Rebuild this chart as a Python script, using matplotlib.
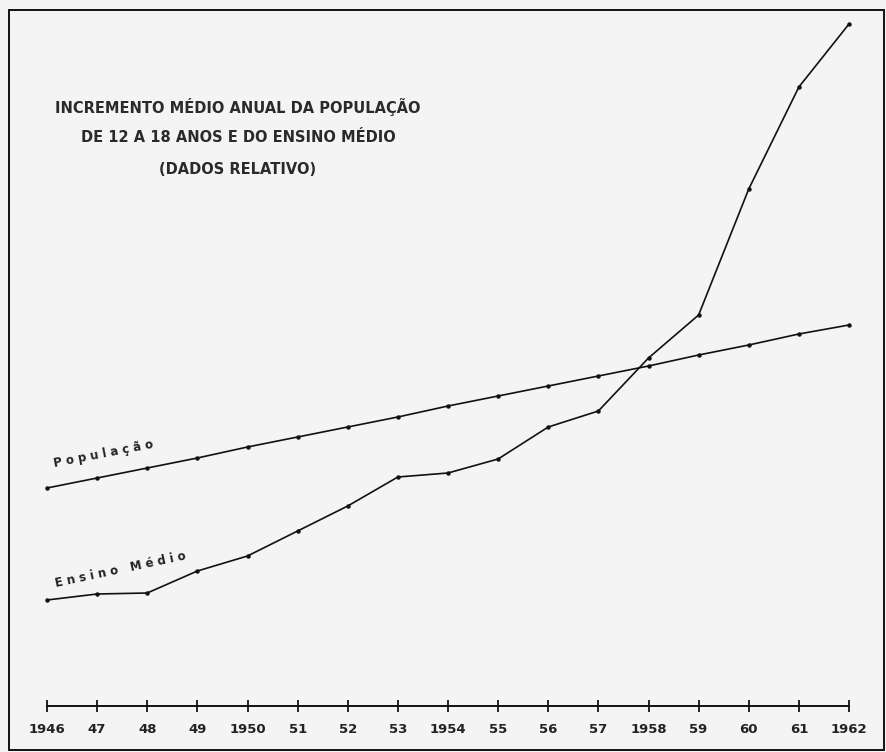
import matplotlib.pyplot as plt
from matplotlib.patches import Rectangle

# anos e rótulos do eixo
anos = list(range(1946, 1963))
rotulos = ["1946", "47", "48", "49", "1950", "51", "52", "53", "1954",
           "55", "56", "57", "1958", "59", "60", "61", "1962"]

# valores relativos (unidades arbitrárias)
populacao = [218, 228, 238, 248, 259, 269, 279, 289, 300,
             310, 320, 330, 340, 351, 361, 372, 381]
ensino_medio = [106, 112, 113, 135, 150, 175, 200, 229, 233,
                247, 279, 295, 348, 391, 517, 619, 682]

W, H = 886, 752
fig = plt.figure(figsize=(W / 100, H / 100), dpi=100)
fig.patch.set_facecolor("#f4f4f4")

# moldura
fig.patches.append(Rectangle((9 / W, 1 - 750 / H), 875 / W, 740 / H,
                             transform=fig.transFigure, fill=False,
                             edgecolor="#111111", linewidth=1.4))

ax = fig.add_axes([47 / W, 1 - 706 / H, (849 - 47) / W, (706 - 10) / H])
ax.set_facecolor("none")
ax.set_xlim(1946, 1962)
ax.set_ylim(0, 696)

ax.plot(anos, populacao, "-o", color="#111111", lw=1.2, ms=2.2, clip_on=False)
ax.plot(anos, ensino_medio, "-o", color="#111111", lw=1.2, ms=2.2, clip_on=False)

for s in ["left", "right", "top"]:
    ax.spines[s].set_visible(False)
ax.spines["bottom"].set_linewidth(1.4)
ax.spines["bottom"].set_color("#111111")
ax.set_yticks([])
ax.set_xticks(anos)
ax.set_xticklabels(rotulos, fontsize=9.5, fontweight="bold", color="#222222")
ax.tick_params(axis="x", direction="inout", length=8, width=1.2, pad=8)

# título
titulo = ["INCREMENTO MÉDIO ANUAL DA POPULAÇÃO",
          "DE 12 A 18 ANOS E DO ENSINO MÉDIO",
          "(DADOS RELATIVO)"]
for i, linha in enumerate(titulo):
    fig.text(238 / W, 1 - (107 + 31 * i) / H, linha, ha="center", va="center",
             fontsize=10.5, fontweight="bold", color="#2a2a2a")

# rótulos das linhas
ax.text(1946.15, 236, "P o p u l a ç ã o", rotation=11, fontsize=8.5,
        fontweight="bold", color="#222222", ha="left", va="bottom",
        rotation_mode="anchor")
ax.text(1946.2, 116, "E n s i n o   M é d i o", rotation=12, fontsize=8.5,
        fontweight="bold", color="#222222", ha="left", va="bottom",
        rotation_mode="anchor")

fig.savefig("out.png", dpi=100, facecolor=fig.get_facecolor())
